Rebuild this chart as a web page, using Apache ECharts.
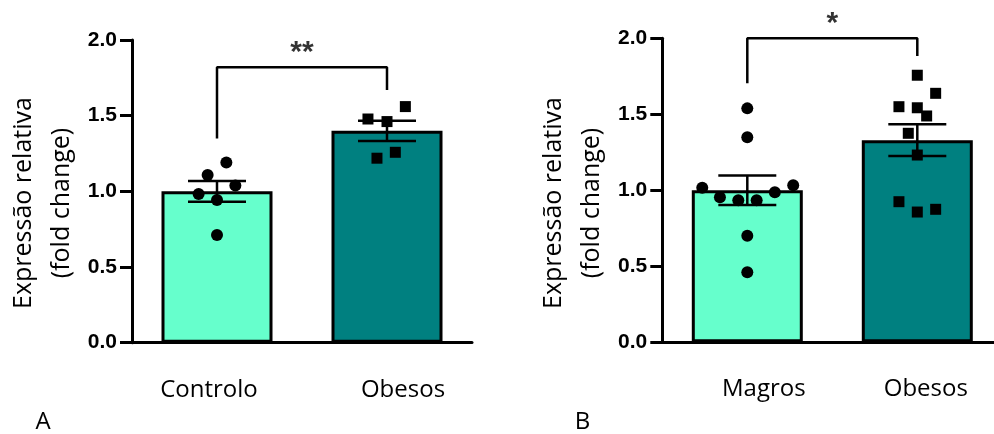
<!DOCTYPE html>
<html><head><meta charset="utf-8">
<script src="https://cdn.jsdelivr.net/npm/echarts@6/dist/echarts.min.js"></script>
<style>html,body{margin:0;padding:0;background:#fff}#c{width:994px;height:434px}</style>
</head><body><div id="c"></div>
<script>
// ---------- data ----------
const catsA = ['Controlo', 'Obesos'];
const meanA = [1.00, 1.40];
const semA = [0.068, 0.067];
const ptsA0 = [1.19, 1.108, 1.038, 0.983, 0.943, 0.712];
const jitA0 = [0.055, -0.055, 0.108, -0.108, 0, 0];
const ptsA1 = [1.56, 1.478, 1.461, 1.258, 1.219];
const jitA1 = [0.108, -0.112, 0, 0.049, -0.059];
const bracketA = [1.35, 1.82, 1.67]; // left leg bottom, top, right leg bottom
const starsA = '**';

const catsB = ['Magros', 'Obesos'];
const meanB = [1.00, 1.33];
const semB = [0.097, 0.105];
const ptsB0 = [1.539, 1.349, 1.017, 1.033, 0.987, 0.954, 0.934, 0.934, 0.701, 0.461];
const jitB0 = [0, 0, -0.265, 0.27, 0.162, -0.161, -0.053, 0.055, 0, 0];
const ptsB1 = [1.757, 1.638, 1.55, 1.543, 1.489, 1.375, 1.232, 0.925, 0.875, 0.857];
const jitB1 = [0, 0.108, -0.108, 0, 0.055, -0.053, 0, -0.108, 0.108, 0];
const bracketB = [1.704, 2.0, 1.884];
const starsB = '*';

const yTicks = [0, 0.5, 1.0, 1.5, 2.0];
const yTitle = 'Expressão relativa\n(fold change)';
const panelLabels = ['A', 'B'];

// ---------- styles ----------
const barColors = ['#66ffcc', '#008080'];
const txtFont = 'Open Sans';

const chart = echarts.init(document.getElementById('c'));

function panel(gi, cats, mean, sem, p0, j0, p1, j1, br, stars) {
  const xCat = gi * 2, xVal = gi * 2 + 1;
  return [
    {
      type: 'bar', xAxisIndex: xCat, yAxisIndex: gi, barWidth: 111, z: 2,
      data: mean.map((v, i) => ({ value: v, itemStyle: { color: barColors[i] } })),
      itemStyle: { borderColor: '#000', borderWidth: 3 },
      emphasis: { disabled: true }, animation: false
    },
    {
      type: 'custom', xAxisIndex: xCat, yAxisIndex: gi, z: 3,
      data: mean.map((v, i) => [i, v, sem[i]]),
      encode: { x: 0, y: 1 },
      renderItem: function (params, api) {
        const c = api.value(0), m = api.value(1), s = api.value(2);
        const top = api.coord([c, m + s]);
        const bot = api.coord([c, m - s]);
        const hw = 29;
        const st = { stroke: '#000', lineWidth: 2.5 };
        return {
          type: 'group', children: [
            { type: 'line', shape: { x1: top[0], y1: top[1], x2: bot[0], y2: bot[1] }, style: st },
            { type: 'line', shape: { x1: top[0] - hw, y1: top[1], x2: top[0] + hw, y2: top[1] }, style: st },
            { type: 'line', shape: { x1: bot[0] - hw, y1: bot[1], x2: bot[0] + hw, y2: bot[1] }, style: st }
          ]
        };
      }, animation: false
    },
    {
      type: 'scatter', xAxisIndex: xVal, yAxisIndex: gi, z: 4,
      symbol: 'circle', symbolSize: 12, itemStyle: { color: '#000', opacity: 1 },
      data: p0.map((v, i) => [0 + j0[i], v]), animation: false
    },
    {
      type: 'scatter', xAxisIndex: xVal, yAxisIndex: gi, z: 4,
      symbol: 'rect', symbolSize: 11, itemStyle: { color: '#000', opacity: 1 },
      data: p1.map((v, i) => [1 + j1[i], v]), animation: false
    },
    {
      type: 'line', xAxisIndex: xVal, yAxisIndex: gi, z: 5, clip: false,
      symbol: 'none', lineStyle: { color: '#000', width: 2.5 },
      data: [[0, br[0]], [0, br[1]], [1, br[1]], [1, br[2]]], animation: false
    },
    {
      type: 'scatter', xAxisIndex: xVal, yAxisIndex: gi, z: 5, clip: false,
      symbolSize: 0, silent: true,
      label: {
        show: true, position: 'top', distance: 0, formatter: stars,
        fontFamily: 'Liberation Sans', fontWeight: 'bold', fontSize: 30, color: '#000'
      },
      data: [[0.5, br[1]]], animation: false
    }
  ];
}

function catAxis(gi, cats, padL, padR) {
  return {
    type: 'category', gridIndex: gi, data: cats, boundaryGap: true,
    axisLine: { onZero: false, lineStyle: { color: '#000', width: 3 } },
    axisTick: { alignWithLabel: true, length: 10, lineStyle: { color: '#000', width: 3 } },
    axisLabel: {
      interval: 0, hideOverlap: false,
      margin: 35, color: '#000', fontFamily: txtFont, fontSize: 24,
      formatter: (v, i) => '{c' + i + '|' + v + '}',
      rich: {
        c0: { fontFamily: txtFont, fontSize: 24, color: '#000', padding: [0, padR[0], 0, padL[0]] },
        c1: { fontFamily: txtFont, fontSize: 24, color: '#000', padding: [0, padR[1], 0, padL[1]] }
      }
    },
    splitLine: { show: false }
  };
}
function valAxis(gi) {
  return { type: 'value', gridIndex: gi, min: -0.5, max: 1.5, show: false };
}
function yAxis(gi) {
  return {
    type: 'value', gridIndex: gi, min: yTicks[0], max: yTicks[yTicks.length - 1], interval: 0.5,
    axisLine: { show: true, onZero: false, lineStyle: { color: '#000', width: 3 } },
    axisTick: { show: true, length: 12, lineStyle: { color: '#000', width: 3 } },
    axisLabel: {
      margin: 15, color: '#000', fontFamily: 'Liberation Sans', fontWeight: 'bold', fontSize: 21,
      formatter: v => v.toFixed(1)
    },
    splitLine: { show: false }
  };
}

const option = {
  animation: false,
  grid: [
    { left: 132, top: 40, width: 340, height: 302.7, containLabel: false, outerBoundsMode: 'none' },
    { left: 662.3, top: 38.3, width: 340, height: 304, containLabel: false, outerBoundsMode: 'none' }
  ],
  xAxis: [
    catAxis(0, catsA, [0, 32], [16, 0]), valAxis(0),
    catAxis(1, catsB, [33, 17], [0, 0]), valAxis(1)
  ],
  yAxis: [yAxis(0), yAxis(1)],
  series: [].concat(
    panel(0, catsA, meanA, semA, ptsA0, jitA0, ptsA1, jitA1, bracketA, starsA),
    panel(1, catsB, meanB, semB, ptsB0, jitB0, ptsB1, jitB1, bracketB, starsB)
  ),
  graphic: [
    { type: 'text', x: 42.5, y: 203, rotation: Math.PI / 2,
      style: { text: yTitle, fontFamily: txtFont, fontSize: 25, fill: '#000', align: 'center', verticalAlign: 'middle', lineHeight: 38 } },
    { type: 'text', x: 573, y: 203, rotation: Math.PI / 2,
      style: { text: yTitle, fontFamily: txtFont, fontSize: 25, fill: '#000', align: 'center', verticalAlign: 'middle', lineHeight: 38 } },
    { type: 'text', x: 43, y: 422.5,
      style: { text: panelLabels[0], fontFamily: txtFont, fontSize: 24, fill: '#000', align: 'center', verticalAlign: 'middle' } },
    { type: 'text', x: 582.5, y: 422,
      style: { text: panelLabels[1], fontFamily: txtFont, fontSize: 24, fill: '#000', align: 'center', verticalAlign: 'middle' } }
  ]
};
chart.setOption(option);
</script>
</body></html>
